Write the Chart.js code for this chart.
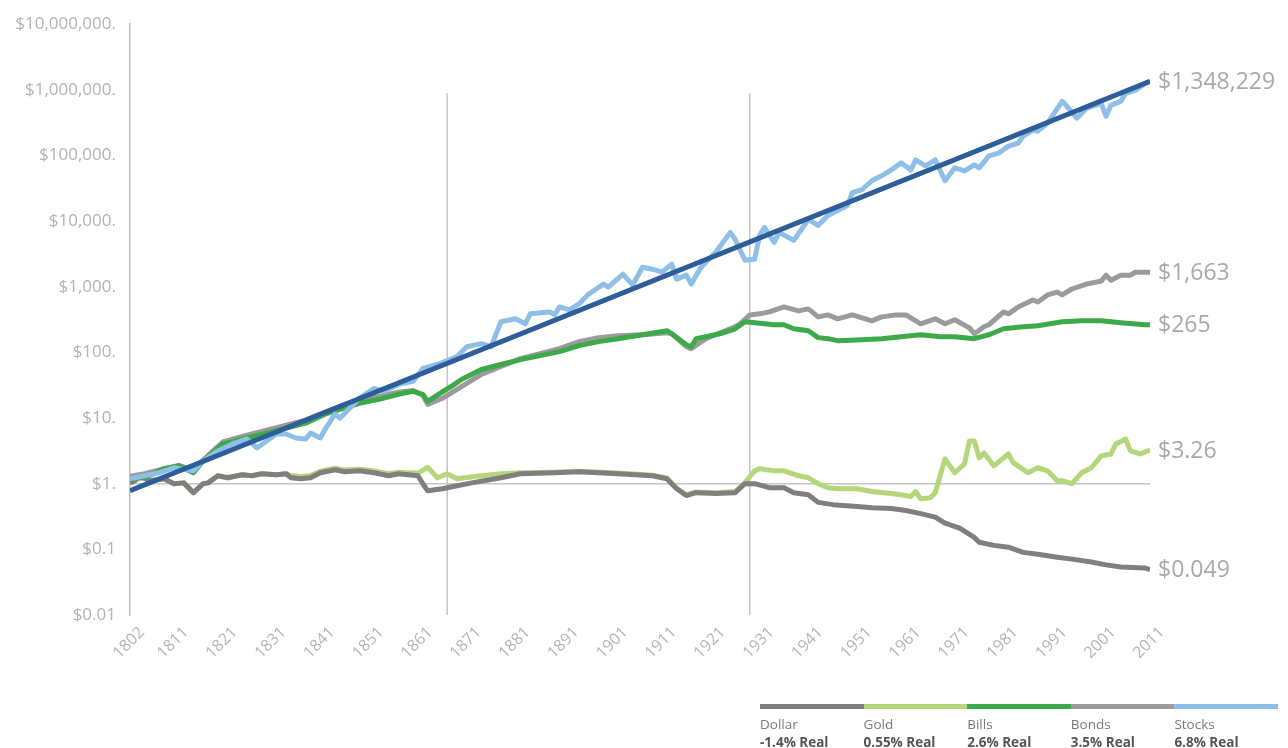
<!DOCTYPE html>
<html>
<head>
<meta charset="utf-8">
<script src="https://cdn.jsdelivr.net/npm/chart.js@4.4.0/dist/chart.umd.min.js"></script>
<style>
  html, body { margin: 0; padding: 0; background: #fff; }
  #wrap { position: relative; width: 1288px; height: 748px; font-family: "Open Sans", sans-serif; }
  #chart { position: absolute; left: 0; top: 0; }
  #legend { position: absolute; left: 760px; top: 704px; width: 518px; }
  .item { position: absolute; top: 0; width: 103.6px; }
  .bar { height: 5px; }
  .name { font-size: 13.5px; color: #7a7a7a; margin-top: 7px; line-height: 17px; }
  .real { font-size: 13.5px; color: #555; font-weight: bold; line-height: 18px; }
</style>
</head>
<body>
<div id="wrap">
  <canvas id="chart" width="1288" height="748" style="width:1288px;height:748px"></canvas>
  <div id="legend"></div>
</div>
<script>
// x axis labels and y axis ticks
var tickYears = [1802, 1811, 1821, 1831, 1841, 1851, 1861, 1871, 1881, 1891, 1901, 1911, 1921, 1931, 1941, 1951, 1961, 1971, 1981, 1991, 2001, 2011];
var yTicks = [0.01, 0.1, 1, 10, 100, 1000, 10000, 100000, 1000000, 10000000];

// real value of $1 invested in 1802
var stockYears = [1802,1803,1808,1811,1815,1817,1820,1823,1826,1828,1830,1832,1834,1836,1838,1839,1841,1842,1844,1845,1849,1852,1854,1857,1860,1862,1865,1869,1871,1874,1876,1878,1881,1883,1884,1888,1889,1890,1892,1894,1896,1899,1900,1903,1905,1907,1909,1911,1913,1914,1916,1917,1919,1922,1925,1926,1928,1930,1931,1932,1934,1935,1938,1941,1943,1945,1949,1950,1952,1954,1956,1958,1960,1962,1963,1965,1967,1969,1971,1973,1975,1976,1978,1980,1982,1984,1985,1987,1988,1990,1993,1994,1996,1998,2001,2002,2003,2005,2006,2008,2010,2011];
var stockValues = [1.2,1.23,1.47,1.75,1.57,2.23,3.16,4.03,4.8,3.51,4.48,5.71,5.71,4.97,4.8,5.91,4.97,6.79,11.5,9.97,20,28.3,25.5,32.6,36.2,56.9,65.4,86.5,122,136,122,293,325,273,387,414,373,493,444,548,777,1100,991,1557,1062,1988,1854,1671,2208,1309,1503,1100,1988,3350,6730,5270,2540,2630,6060,8010,4750,6730,5090,10590,8590,12170,17220,27100,30100,41200,49000,60400,77100,60400,85500,69500,85500,41200,64800,58300,71900,64800,98400,109000,139000,155000,198000,243000,235000,310000,668000,561000,370000,524000,624000,396000,582000,668000,883000,980000,1250000,1348229];

var trendYears = [1802, 2011];
var trendValues = [0.78, 1348229];

var bondYears = [1802,1805,1809,1812,1815,1817,1821,1826,1830,1834,1838,1842,1845,1849,1853,1857,1860,1862,1863,1866,1870,1874,1878,1882,1886,1890,1894,1898,1902,1907,1912,1913,1916,1917,1920,1926,1927,1929,1931,1933,1936,1939,1941,1943,1945,1947,1950,1952,1954,1956,1959,1961,1964,1967,1969,1971,1974,1975,1977,1978,1981,1982,1984,1987,1988,1990,1992,1993,1995,1998,2001,2002,2003,2005,2007,2008,2010,2011];
var bondValues = [1.3,1.42,1.69,1.9,1.6,2.3,4.32,5.51,6.56,7.81,9.3,12.3,15.1,18.7,21.4,24.7,26.4,22.2,16.2,20,30.4,46.2,61,80.6,95.9,114,146,168,180,186,199,193,122,114,162,246,273,373,387,414,493,429,460,348,373,325,373,336,303,348,373,373,273,325,273,314,237,193,246,264,414,387,493,630,588,750,832,750,925,1100,1220,1500,1260,1500,1500,1670,1670,1663];

var billYears = [1802,1805,1809,1812,1815,1817,1821,1826,1830,1834,1838,1842,1845,1849,1853,1857,1860,1862,1863,1866,1868,1870,1874,1878,1882,1886,1890,1894,1898,1902,1907,1912,1913,1916,1917,1918,1920,1923,1926,1928,1930,1932,1934,1936,1938,1941,1943,1945,1947,1952,1956,1960,1964,1968,1971,1975,1978,1981,1985,1988,1993,1997,2001,2005,2010,2011];
var billValues = [1.19,1.23,1.69,1.87,1.47,2.23,4.03,4.97,5.91,7.03,8.37,11.5,13.6,16.8,19.3,23,25.5,23,18,25,31,39,55,65.4,77.8,89.5,103,127,146,162,186,214,193,131,122,162,173,193,229,293,283,273,264,264,229,214,168,162,151,156,162,173,186,173,173,162,186,229,246,255,293,303,303,283,264,265];

var goldYears = [1802,1803,1804,1806,1809,1811,1813,1815,1817,1818,1820,1822,1825,1827,1829,1832,1834,1835,1837,1839,1841,1844,1846,1849,1852,1855,1857,1859,1861,1862,1863,1865,1867,1869,1874,1878,1882,1889,1894,1902,1909,1912,1914,1916,1918,1922,1926,1928,1930,1931,1934,1936,1939,1941,1943,1945,1947,1951,1954,1958,1961,1962,1963,1964,1966,1967,1969,1971,1973,1974,1975,1976,1977,1979,1982,1983,1986,1988,1990,1992,1993,1995,1997,1999,2001,2003,2004,2006,2007,2009,2011];
var goldValues = [1.03,1.11,1.32,1.11,1.19,1.0,1.03,0.73,1.0,1.03,1.32,1.23,1.37,1.32,1.42,1.37,1.42,1.33,1.29,1.33,1.55,1.72,1.62,1.66,1.57,1.42,1.5,1.47,1.45,1.6,1.78,1.23,1.42,1.19,1.32,1.42,1.47,1.5,1.55,1.45,1.35,1.22,0.86,0.68,0.75,0.73,0.76,1.04,1.57,1.69,1.57,1.57,1.32,1.23,1.0,0.87,0.84,0.84,0.76,0.71,0.66,0.64,0.76,0.59,0.61,0.73,2.39,1.47,2.01,4.48,4.48,2.47,2.94,1.87,2.84,2.08,1.47,1.75,1.57,1.11,1.11,1.0,1.47,1.75,2.65,2.84,4.03,4.8,3.16,2.84,3.26];

var dollarYears = [1802,1803,1804,1806,1809,1811,1813,1815,1817,1818,1820,1822,1825,1827,1829,1832,1834,1835,1837,1839,1841,1844,1846,1849,1852,1855,1857,1859,1861,1862,1863,1866,1868,1872,1878,1882,1889,1894,1902,1909,1912,1914,1916,1918,1922,1926,1928,1930,1933,1936,1938,1941,1943,1946,1951,1954,1958,1961,1964,1967,1969,1972,1975,1976,1979,1982,1985,1988,1992,1995,1999,2002,2005,2010,2011];
var dollarValues = [1.03,1.11,1.32,1.11,1.19,1.0,1.03,0.73,1.0,1.03,1.32,1.23,1.37,1.32,1.42,1.37,1.42,1.23,1.19,1.23,1.47,1.63,1.52,1.57,1.47,1.32,1.42,1.37,1.32,1.0,0.78,0.84,0.9,1.03,1.23,1.42,1.47,1.52,1.42,1.32,1.19,0.84,0.66,0.73,0.71,0.73,1.0,1.0,0.87,0.87,0.73,0.68,0.52,0.48,0.45,0.43,0.42,0.39,0.35,0.31,0.25,0.21,0.152,0.128,0.115,0.108,0.09,0.084,0.076,0.071,0.064,0.058,0.054,0.052,0.049];

// vertical marker lines and the $1 reference
var markerYears = [1867, 1929];
var markerRange = [880000, 0.01];
var baseValue = 1;

var legendNames = ['Dollar', 'Gold', 'Bills', 'Bonds', 'Stocks'];
var legendReturns = ['-1.4% Real', '0.55% Real', '2.6% Real', '3.5% Real', '6.8% Real'];
var legendColors = ['#7f7f7f', '#b4d77c', '#3daa4a', '#9b9b9b', '#8dbfe9'];

function pairs(xs, ys) {
    return xs.map(function (x, i) { return {x: x, y: ys[i]}; });
}

function line(data, color, width, endLabel) {
    return {
        data: data,
        borderColor: color,
        borderWidth: width,
        pointRadius: 0,
        tension: 0,
        fill: false,
        borderJoinStyle: 'round',
        showEnd: endLabel
    };
}

var datasets = [
    line(pairs(trendYears, trendValues), '#2e5e99', 5, true),
    line(pairs(stockYears, stockValues), '#8dbfe9', 5, false),
    line(pairs(billYears, billValues), '#3daa4a', 5, true),
    line(pairs(bondYears, bondValues), '#9b9b9b', 5, true),
    line(pairs(dollarYears, dollarValues), '#7f7f7f', 5, true),
    line(pairs(goldYears, goldValues), '#b4d77c', 5, true),
    line([{x: tickYears[0], y: baseValue}, {x: tickYears[tickYears.length - 1], y: baseValue}], '#c6c6c6', 1.5, false)
];
markerYears.forEach(function (yr) {
    datasets.push(line([{x: yr, y: markerRange[0]}, {x: yr, y: markerRange[1]}], '#c6c6c6', 1.5, false));
});

var endLabels = {
    id: 'endLabels',
    afterDatasetsDraw: function (chart) {
        var ctx = chart.ctx;
        ctx.save();
        ctx.font = '23px "Open Sans", sans-serif';
        ctx.fillStyle = '#a9a9a9';
        ctx.textBaseline = 'middle';
        ctx.textAlign = 'left';
        chart.data.datasets.forEach(function (ds, i) {
            if (!ds.showEnd) return;
            var meta = chart.getDatasetMeta(i);
            var last = meta.data[meta.data.length - 1];
            var v = ds.data[ds.data.length - 1].y;
            var txt = '$' + v.toLocaleString('en-US', {maximumFractionDigits: 3});
            ctx.fillText(txt, chart.chartArea.right + 8, last.y + 1);
        });
        ctx.restore();
    }
};

Chart.defaults.font.family = '"Open Sans", sans-serif';

new Chart(document.getElementById('chart'), {
    type: 'line',
    data: {datasets: datasets},
    options: {
        responsive: false,
        animation: false,
        devicePixelRatio: 1,
        layout: {padding: {left: 0, top: 20, right: 138, bottom: 73}},
        plugins: {legend: {display: false}, tooltip: {enabled: false}},
        scales: {
            x: {
                type: 'linear',
                min: tickYears[0],
                max: tickYears[tickYears.length - 1],
                grid: {display: false, drawTicks: false},
                border: {display: false},
                afterBuildTicks: function (scale) {
                    scale.ticks = tickYears.map(function (v) { return {value: v}; });
                },
                afterFit: function (scale) { scale.height = 60; },
                ticks: {
                    color: '#b5b5b5',
                    font: {size: 16},
                    minRotation: 45,
                    maxRotation: 45,
                    padding: 8,
                    labelOffset: 12,
                    autoSkip: false,
                    callback: function (v) { return String(v); }
                }
            },
            y: {
                type: 'logarithmic',
                min: yTicks[0],
                max: yTicks[yTicks.length - 1],
                grid: {display: false, drawTicks: false},
                border: {display: true, color: '#c0c0c0', width: 1.5},
                afterBuildTicks: function (scale) {
                    scale.ticks = yTicks.map(function (v) { return {value: v}; });
                },
                afterFit: function (scale) { scale.width = 130; },
                ticks: {
                    color: '#b3b3b3',
                    font: {size: 17},
                    padding: 14,
                    autoSkip: false,
                    callback: function (v) {
                        if (v < 1) return '$' + v;
                        return '$' + v.toLocaleString('en-US') + '.';
                    }
                }
            }
        }
    },
    plugins: [endLabels]
});

var legend = document.getElementById('legend');
legendNames.forEach(function (name, i) {
    var el = document.createElement('div');
    el.className = 'item';
    el.style.left = (i * 103.6) + 'px';
    el.innerHTML = '<div class="bar" style="background:' + legendColors[i] + '"></div>' +
        '<div class="name">' + name + '</div><div class="real">' + legendReturns[i] + '</div>';
    legend.appendChild(el);
});
</script>
</body>
</html>
